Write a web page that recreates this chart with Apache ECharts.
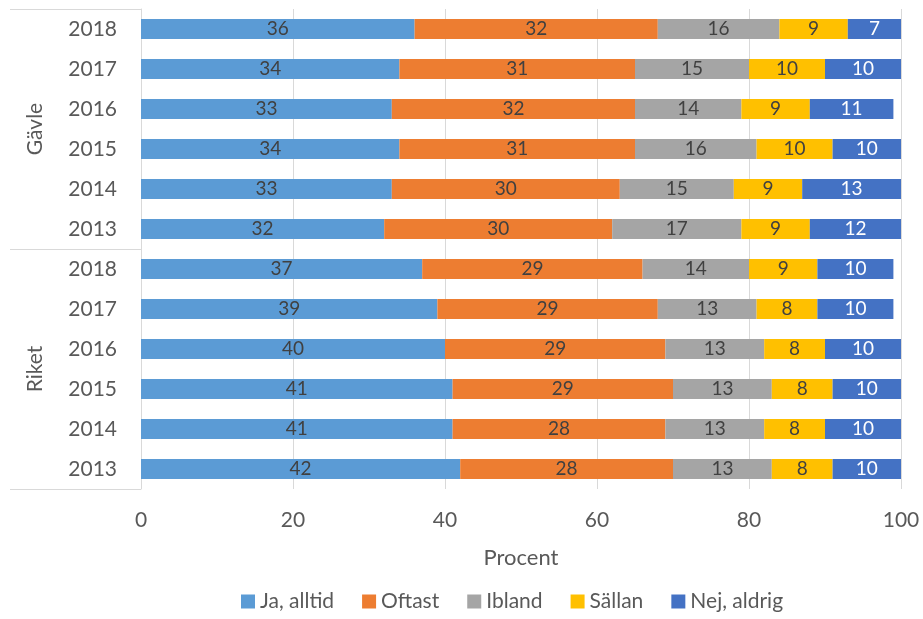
<!DOCTYPE html>
<html><head><meta charset="utf-8">
<script src="https://cdn.jsdelivr.net/npm/echarts@6/dist/echarts.min.js"></script>
<style>html,body{margin:0;padding:0;background:#fff}#c{width:923px;height:619px}</style>
</head><body><div id="c"></div>
<script>
const groups = ['Gävle', 'Riket'];
const years = ['2018', '2017', '2016', '2015', '2014', '2013'];
const seriesNames = ['Ja, alltid', 'Oftast', 'Ibland', 'Sällan', 'Nej, aldrig'];
// rows top to bottom: Gävle 2018..2013, Riket 2018..2013
const jaAlltid = [36, 34, 33, 34, 33, 32, 37, 39, 40, 41, 41, 42];
const oftast   = [32, 31, 32, 31, 30, 30, 29, 29, 29, 29, 28, 28];
const ibland   = [16, 15, 14, 16, 15, 17, 14, 13, 13, 13, 13, 13];
const sallan   = [9, 10, 9, 10, 9, 9, 9, 8, 8, 8, 8, 8];
const nejAldrig= [7, 10, 11, 10, 13, 12, 10, 10, 10, 10, 10, 10];
const xTicks = [0, 20, 40, 60, 80, 100];

const colors = ['#5B9BD5', '#ED7D31', '#A5A5A5', '#FFC000', '#4472C4'];
const labelColors = ['#404040', '#404040', '#404040', '#404040', '#FFFFFF'];
const values = [jaAlltid, oftast, ibland, sallan, nejAldrig];
const cats = [];
groups.forEach(g => years.forEach(y => cats.push(g + '|' + y)));
const font = 'Lato, "Open Sans", sans-serif';

const chart = echarts.init(document.getElementById('c'));
chart.setOption({
  animation: false,
  textStyle: { fontFamily: font },
  grid: { left: 141, right: 22, top: 9, bottom: 130 },
  xAxis: {
    type: 'value', min: xTicks[0], max: xTicks[xTicks.length - 1], interval: 20,
    axisLine: { show: false }, axisTick: { show: false },
    splitLine: { show: true, lineStyle: { color: '#D9D9D9', width: 1 } },
    axisLabel: { color: '#595959', fontSize: 21, margin: 21, fontFamily: font },
    name: 'Procent', nameLocation: 'middle', nameGap: 58,
    nameTextStyle: { color: '#595959', fontSize: 22, fontFamily: font }
  },
  yAxis: [{
    type: 'category', data: cats, inverse: true,
    axisLine: { show: false }, axisTick: { show: false },
    axisLabel: { color: '#595959', fontSize: 21, margin: 24, fontFamily: font,
      formatter: v => v.split('|')[1] }
  }, {
    type: 'category', data: groups, inverse: true, position: 'left',
    axisLine: { show: true, lineStyle: { color: '#D9D9D9' } },
    axisTick: { show: true, interval: 0, length: 131, lineStyle: { color: '#D9D9D9' } },
    axisLabel: { color: '#595959', fontSize: 21, rotate: 90, margin: 95, fontFamily: font }
  }],
  legend: {
    bottom: 2, left: 236, itemWidth: 14, itemHeight: 14, icon: 'rect', itemGap: 28,
    textStyle: { color: '#595959', fontSize: 21, fontFamily: font },
    data: seriesNames
  },
  series: seriesNames.map((n, i) => ({
    name: n, type: 'bar', stack: 'total', yAxisIndex: 0, clip: true,
    barWidth: 20, itemStyle: { color: colors[i] },
    label: { show: true, position: 'inside', color: labelColors[i], fontSize: 19, fontFamily: font },
    data: values[i]
  }))
});
</script></body></html>
